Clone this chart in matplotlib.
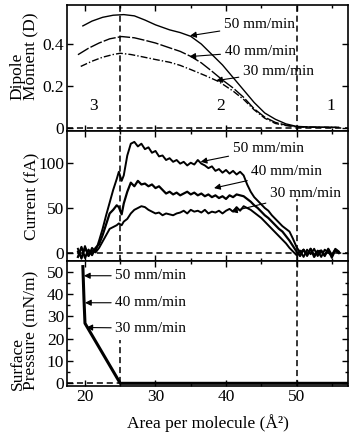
import matplotlib
matplotlib.use("Agg")
import matplotlib.pyplot as plt
from matplotlib.ticker import MultipleLocator

plt.rcParams['font.family'] = ['Liberation Serif', 'DejaVu Serif']

# dipole moment (D) vs area
dip50_x = [19.7, 21, 22.5, 24, 25.5, 27, 28.5, 30, 32, 33.5, 35, 36.5, 38, 39.5, 41, 42.5, 44, 45.5, 47, 48.5, 50, 52, 56]
dip50_y = [0.487, 0.510, 0.528, 0.538, 0.541, 0.535, 0.515, 0.492, 0.468, 0.455, 0.437, 0.40, 0.35, 0.30, 0.24, 0.18, 0.12, 0.07, 0.04, 0.018, 0.006, 0.003, 0.001]
dip40_x = [19.0, 20.5, 22, 23.5, 25.2, 27, 28.5, 30, 32, 33.5, 35, 36.5, 38, 39.5, 41, 42.5, 44, 45.5, 47, 48.5, 50, 52, 56]
dip40_y = [0.349, 0.38, 0.405, 0.425, 0.436, 0.43, 0.418, 0.405, 0.382, 0.365, 0.341, 0.31, 0.27, 0.228, 0.19, 0.145, 0.09, 0.05, 0.025, 0.012, 0.004, 0.002, 0.001]
dip30_x = [19.4, 21, 22.5, 24, 25, 26.5, 28, 30, 32, 33.5, 35, 37, 39, 41, 42.5, 44, 45.5, 47, 48.5, 50, 52, 56]
dip30_y = [0.293, 0.318, 0.337, 0.35, 0.356, 0.35, 0.34, 0.326, 0.313, 0.298, 0.278, 0.25, 0.22, 0.175, 0.135, 0.085, 0.045, 0.02, 0.01, 0.004, 0.002, 0.001]

# current (fA) vs area
cur_x = [19.0, 19.5, 20.0, 20.5, 21.0, 21.5, 22.0, 22.5, 23.0, 23.5,
         24.0, 24.5, 24.8, 25.2, 25.5, 26.0, 26.5, 27.0, 27.5, 28.0,
         28.5, 29.0, 29.5, 30.0, 30.5, 31.0, 31.5, 32.0, 32.5, 33.0,
         33.5, 34.0, 34.5, 35.0, 35.5, 36.0, 36.5, 37.0, 37.5, 38.0,
         38.5, 39.0, 39.5, 40.0, 40.5, 41.0, 41.5, 42.0, 42.5, 43.0,
         43.5, 44.0, 44.5, 45.0, 45.5, 46.0, 46.5, 47.0, 47.5, 48.0,
         48.5, 49.0, 49.5, 50.0, 50.5, 51.0, 51.5, 52.0, 52.5, 53.0,
         53.5, 54.0, 54.5, 55.0, 55.5, 56.0]
cur50 = [5, -6, 8, -3, 6, 2, 14, 27, 42, 56,
         70, 82, 90, 80, 86, 108, 121, 123, 118, 121,
         115, 117, 111, 113, 107, 108, 103, 105, 101, 103,
         99, 101, 97, 100, 98, 103, 99, 97, 94, 96,
         91, 93, 89, 92, 88, 91, 87, 90, 86, 76,
         68, 62, 58, 54, 50, 47, 42, 38, 34, 30,
         27, 24, 16, 7, 1, 4, -3, 5, -2, 3,
         -4, 4, 1, -3, 5, 2]
cur40 = [-4, 7, -5, 4, -2, 6, 10, 20, 32, 44,
         48, 53, 51, 43, 55, 68, 78, 74, 80, 76,
         77, 74, 76, 72, 74, 70, 66, 68, 65, 67,
         64, 66, 68, 65, 67, 64, 66, 63, 65, 62,
         64, 61, 63, 60, 64, 62, 65, 64, 63, 60,
         57, 53, 50, 46, 42, 39, 35, 31, 27, 24,
         19, 14, 8, 2, -3, 4, -2, 5, -4, 2,
         3, -3, 5, -2, 4, 1]
cur30 = [2, -5, 6, -3, 3, 1, 6, 13, 20, 27,
         29, 31, 33, 31, 35, 38, 44, 48, 50, 52,
         51, 48, 46, 44, 45, 42, 44, 43, 42, 44,
         45, 47, 44, 48, 46, 47, 45, 48, 44, 46,
         45, 47, 44, 47, 49, 46, 51, 47, 52, 50,
         48, 45, 42, 39, 35, 31, 27, 23, 19, 15,
         11, 6, 2, -2, 3, -4, 4, -1, 5, -3,
         3, -2, 4, -5, 3, 0]

# surface pressure (mN/m) vs area
pres_x = [19.7, 19.86, 20.0, 25.0, 58.0]
pres_y = [52.3, 37.4, 26.9, 0, 0]

fig = plt.figure(figsize=(3.5, 4.34), dpi=100)
L, W = 67 / 350, 281 / 350
ax1 = fig.add_axes([L, 0.6982, W, 0.2903])
ax2 = fig.add_axes([L, 0.3986, W, 0.2995])
ax3 = fig.add_axes([L, 0.1106, W, 0.2880])

for ax in (ax1, ax2, ax3):
    ax.set_xlim(17.45, 57.3)
    ax.xaxis.set_major_locator(MultipleLocator(10))
    ax.xaxis.set_minor_locator(MultipleLocator(5))
    ax.tick_params(which='both', direction='in', top=True, right=True, labelsize=12.5, pad=2, width=1)
    ax.tick_params(which='major', length=4)
    ax.tick_params(which='minor', length=2.5)
    for s in ax.spines.values():
        s.set_linewidth(1.2)
    ax.axhline(0, color='k', ls=(0, (4, 2.5)), lw=1.1)

# top panel
ax1.plot(dip50_x, dip50_y, color='k', lw=1.0)
ax1.plot(dip40_x, dip40_y, color='k', lw=1.0, ls=(0, (9, 1.5)))
ax1.plot(dip30_x, dip30_y, color='k', lw=1.0, ls=(0, (5, 1.5, 1, 1.5)))
ax1.axvline(25, color='k', ls=(0, (4, 2.5)), lw=1.1)
ax1.axvline(50, color='k', ls=(0, (4, 2.5)), lw=1.1)
ax1.set_ylim(-0.016, 0.587)
ax1.set_yticks([0, 0.2, 0.4])
ax1.set_yticklabels(['0', '0.2', '0.4'])
ax1.set_xticklabels([])
for lab, x in (('3', 21.2), ('2', 39.3), ('1', 54.8)):
    ax1.text(x, 0.103, lab, fontsize=12.5, ha='center', va='center')
arr = dict(arrowstyle='-|>', color='k', lw=0.8, mutation_scale=9, shrinkA=1, shrinkB=0)
ax1.annotate('50 mm/min', xy=(34.9, 0.44), xytext=(39.7, 0.492), fontsize=11, va='center', arrowprops=arr)
ax1.annotate('40 mm/min', xy=(34.8, 0.34), xytext=(39.8, 0.365), fontsize=11, va='center', arrowprops=arr)
ax1.annotate('30 mm/min', xy=(38.6, 0.225), xytext=(42.4, 0.27), fontsize=11, va='center', arrowprops=arr)

# middle panel
ax2.plot(cur_x, cur50, color='k', lw=1.4)
ax2.plot(cur_x, cur40, color='k', lw=1.6)
ax2.plot(cur_x, cur30, color='k', lw=1.4)
ax2.axvline(25, color='k', ls=(0, (4, 2.5)), lw=1.1)
ax2.plot([50, 50], [-8.5, 60], color='k', ls=(0, (4, 2.5)), lw=1.1)
ax2.set_ylim(-8.5, 135)
ax2.set_yticks([0, 50, 100])
ax2.set_xticklabels([])
ax2.annotate('50 mm/min', xy=(36.4, 101), xytext=(40.95, 116), fontsize=11, va='center', arrowprops=arr)
ax2.annotate('40 mm/min', xy=(38.3, 72), xytext=(43.6, 90), fontsize=11, va='center', arrowprops=arr)
ax2.annotate('30 mm/min', xy=(40.7, 46), xytext=(46.2, 66), fontsize=11, va='center', arrowprops=arr)

# bottom panel
ax3.plot(pres_x, pres_y, color='k', lw=2.2)
ax3.plot([25, 25], [0, 19.5], color='k', ls=(0, (4, 2.5)), lw=1.1)
ax3.axvline(50, color='k', ls=(0, (4, 2.5)), lw=1.1)
ax3.set_ylim(-1.2, 54.8)
ax3.yaxis.set_major_locator(MultipleLocator(10))
ax3.yaxis.set_minor_locator(MultipleLocator(5))
ax3.annotate('50 mm/min', xy=(19.85, 48.2), xytext=(24.3, 48.2), fontsize=11, va='center', arrowprops=arr)
ax3.annotate('40 mm/min', xy=(20.0, 36.1), xytext=(24.3, 36.1), fontsize=11, va='center', arrowprops=arr)
ax3.annotate('30 mm/min', xy=(20.2, 25.0), xytext=(24.3, 24.7), fontsize=11, va='center', arrowprops=arr)

# axis labels
fig.text(0.07, 1 - 100 / 434, 'Dipole\nMoment (D)', rotation=90, fontsize=12.5,
         ha='center', va='bottom', multialignment='left', linespacing=0.85)
fig.text(0.093, 1 - 196.5 / 434, 'Current (fA)', rotation=90, fontsize=12.5,
         ha='center', va='center')
fig.text(0.07, 1 - 390 / 434, 'Surface\nPressure (mN/m)', rotation=90, fontsize=12.5,
         ha='center', va='bottom', multialignment='left', linespacing=0.85)
fig.text(0.593, 0.025, 'Area per molecule (Å²)', fontsize=12.5, ha='center', va='center')

fig.savefig('out.png', dpi=100)
